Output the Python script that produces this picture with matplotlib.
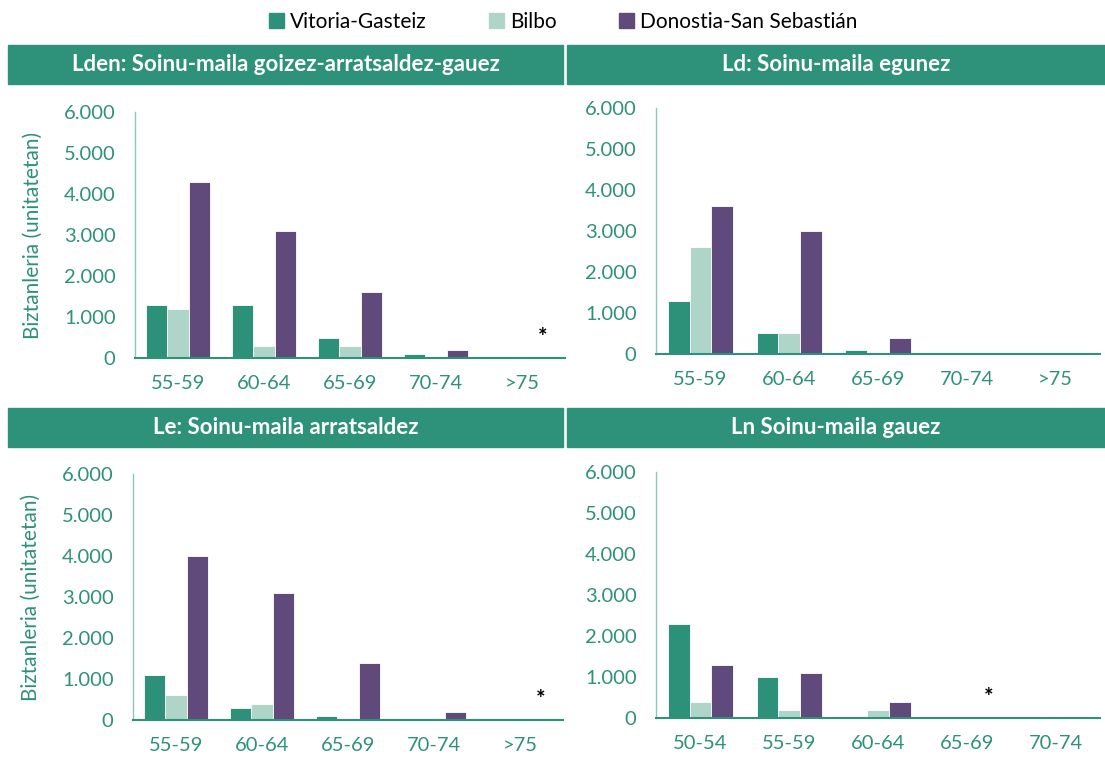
import numpy as np
import matplotlib
matplotlib.use('Agg')
import matplotlib.pyplot as plt
from matplotlib.patches import Rectangle, Patch

plt.rcParams['font.family'] = ['Lato', 'DejaVu Sans']

series = ['Vitoria-Gasteiz', 'Bilbo', 'Donostia-San Sebastián']
colors = ['#2D9179', '#AED5C8', '#5F4A7B']
green = '#2E917A'

titles = ['Lden: Soinu-maila goizez-arratsaldez-gauez',
          'Ld: Soinu-maila egunez',
          'Le: Soinu-maila arratsaldez',
          'Ln Soinu-maila gauez']

cats_a = ['55-59', '60-64', '65-69', '70-74', '>75']
cats_n = ['50-54', '55-59', '60-64', '65-69', '70-74']

lden_vg = [1300, 1300, 500, 100, 0]
lden_bi = [1200, 300, 300, 0, 0]
lden_ds = [4300, 3100, 1600, 200, 0]

ld_vg = [1300, 500, 100, 0, 0]
ld_bi = [2600, 500, 0, 0, 0]
ld_ds = [3600, 3000, 400, 0, 0]

le_vg = [1100, 300, 100, 0, 0]
le_bi = [600, 400, 0, 0, 0]
le_ds = [4000, 3100, 1400, 200, 0]

ln_vg = [2300, 1000, 0, 0, 0]
ln_bi = [400, 200, 200, 0, 0]
ln_ds = [1300, 1100, 400, 0, 0]

# category index where a "*" note is shown (None = no note)
star_idx = [4, None, 4, 3]
star_val = 500

W, H = 1105, 769
fig = plt.figure(figsize=(W / 100, H / 100), dpi=100)


def px(l, b, r, t):
    return [l / W, 1 - b / H, (r - l) / W, (b - t) / H]


panels = [
    (px(135, 358, 565, 112), cats_a, (lden_vg, lden_bi, lden_ds), True),
    (px(656, 354, 1100, 108), cats_a, (ld_vg, ld_bi, ld_ds), False),
    (px(133, 720, 563, 474), cats_a, (le_vg, le_bi, le_ds), True),
    (px(656, 718, 1100, 472), cats_n, (ln_vg, ln_bi, ln_ds), False),
]

bw = 0.245
for i, (pos, cats, vals, left) in enumerate(panels):
    ax = fig.add_axes(pos)
    x = np.arange(len(cats))
    for j in range(3):
        ax.bar(x + (j - 1) * bw, vals[j], bw, color=colors[j],
               edgecolor='white', linewidth=0.6)
    ax.set_xlim(-0.5, len(cats) - 0.5)
    ax.set_ylim(0, 6000)
    ax.set_yticks(range(0, 6001, 1000))
    ax.set_yticklabels(['0' if v == 0 else '{:,}'.format(v).replace(',', '.')
                        for v in range(0, 6001, 1000)])
    ax.set_xticks(x)
    ax.set_xticklabels(cats)
    ax.tick_params(length=0, labelsize=14.5, labelcolor=green)
    ax.tick_params(axis='y', pad=14)
    ax.tick_params(axis='x', pad=12)
    for s in ['top', 'right']:
        ax.spines[s].set_visible(False)
    ax.spines['left'].set_color('#8CC7B8')
    ax.spines['left'].set_linewidth(1.0)
    ax.spines['bottom'].set_color(green)
    ax.spines['bottom'].set_linewidth(1.5)
    if left:
        ax.set_ylabel('Biztanleria (unitatetan)', fontsize=15, color=green)
        ax.yaxis.set_label_coords(-0.215, 0.5)
    if star_idx[i] is not None:
        ax.text(star_idx[i] + bw, star_val, '*', ha='center', va='center',
                fontsize=16, fontweight='bold', color='black')

# title bars
bars = [(8, 45, 563, 84, 0), (567, 45, 1105, 84, 1),
        (8, 408, 563, 447, 2), (567, 408, 1105, 447, 3)]
for l, t, r, b, k in bars:
    fig.patches.append(Rectangle((l / W, 1 - b / H), (r - l) / W, (b - t) / H,
                                 transform=fig.transFigure, color=green, zorder=0))
    fig.text((l + r) / 2 / W, 1 - (t + b) / 2 / H, titles[k], color='white',
             fontsize=16, fontweight='bold', ha='center', va='center')

handles = [Patch(color=c, label=s) for c, s in zip(colors, series)]
fig.legend(handles=handles, loc='center', bbox_to_anchor=(0.51, 1 - 22 / H),
           ncol=3, frameon=False, fontsize=15, handlelength=0.7,
           handleheight=0.7, handletextpad=0.3, columnspacing=3.0)

fig.savefig('out.png', dpi=100)
